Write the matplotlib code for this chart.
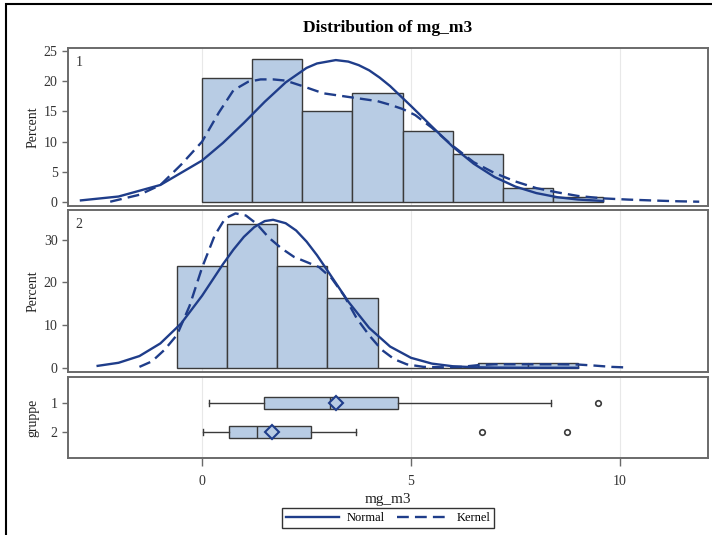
import matplotlib
matplotlib.use("Agg")
from matplotlib import pyplot as plt
from matplotlib.lines import Line2D
from matplotlib.patches import Rectangle

plt.rcParams['font.family'] = ['Liberation Serif', 'DejaVu Serif']

### Donnees ###

bin_width = 1.2
hist1_start = 0.0
hist1_pct = [20.5, 23.6, 15.0, 18.1, 11.8, 7.9, 2.4, 0.8]
hist2_start = -0.6
hist2_pct = [23.75, 33.75, 23.75, 16.25, 0.0, 0.0, 1.0, 1.0]

norm1_x = [-2.9, -2.0, -1.0, 0.0, 0.5, 1.0, 1.5, 2.0, 2.5, 2.75, 3.2, 3.5, 3.75, 4.0, 4.25, 4.5,
           5.0, 5.5, 6.0, 6.5, 7.0, 7.5, 8.0, 8.5, 9.0, 9.6]
norm1_y = [0.27, 0.91, 2.82, 6.87, 9.79, 13.1, 16.6, 19.8, 22.2, 22.94, 23.5, 23.25, 22.66, 21.8, 20.6, 19.2,
           15.9, 12.5, 9.16, 6.35, 4.14, 2.55, 1.48, 0.80, 0.41, 0.17]
kern1_x = [-2.2, -1.5, -1.0, -0.5, 0.0, 0.4, 0.75, 1.1, 1.4, 1.7, 2.0, 2.4, 2.9, 3.6,
           4.2, 4.5, 4.8, 5.1, 5.5, 6.0, 6.5, 7.0, 7.5, 8.0, 8.5, 9.0, 9.6, 10.2, 10.8, 11.4, 11.9]
kern1_y = [0.05, 1.2, 2.8, 6.2, 10.0, 14.8, 18.5, 19.9, 20.3, 20.3, 20.1, 19.2, 18.0, 17.3,
           16.7, 16.1, 15.4, 14.4, 12.3, 9.3, 6.6, 4.8, 3.4, 2.3, 1.6, 1.0, 0.6, 0.4, 0.25, 0.12, 0.05]

norm2_x = [-2.5, -2.0, -1.5, -1.0, -0.5, 0.0, 0.5, 0.75, 1.0, 1.25, 1.5, 1.7, 2.0, 2.25, 2.5, 2.75,
           3.0, 3.5, 4.0, 4.5, 5.0, 5.5, 6.0, 6.5, 7.0, 8.0, 9.0]
norm2_y = [0.44, 1.16, 2.74, 5.70, 10.4, 16.9, 24.3, 27.7, 30.7, 33.0, 34.4, 34.7, 33.9, 32.2, 29.6, 26.4,
           22.8, 15.5, 9.34, 4.97, 2.33, 0.97, 0.35, 0.12, 0.04, 0.0, 0.0]
kern2_x = [-1.5, -1.2, -0.9, -0.6, -0.3, 0.0, 0.3, 0.55, 0.8, 1.05, 1.3, 1.6, 1.9, 2.2,
           2.5, 2.8, 3.1, 3.4, 3.7, 4.0, 4.3, 4.6, 4.9, 5.3, 5.8, 6.2, 6.6, 7.0, 7.5, 8.0,
           8.5, 9.0, 9.4, 9.8, 10.2]
kern2_y = [0.2, 1.5, 4.2, 7.7, 14.5, 23.5, 31.0, 35.0, 36.2, 35.7, 33.8, 30.5, 28.0, 26.0,
           24.8, 23.6, 21.0, 16.9, 11.6, 7.6, 4.2, 2.0, 0.8, 0.2, 0.1, 0.2, 0.6, 0.8, 0.8, 0.8,
           0.8, 0.75, 0.5, 0.2, 0.05]

groupes = [1, 2]
whislo = [0.17, 0.02]
q1 = [1.49, 0.65]
med = [3.05, 1.31]
q3 = [4.70, 2.60]
whishi = [8.35, 3.68]
moyenne = [3.2, 1.68]
extremes = [[9.48], [6.71, 8.73]]

### Style ###

navy = '#1f3d8a'
fill = '#b8cce4'
edge = '#3a3a3a'
frame = '#6a6a6a'
W, H = 712, 535

def rect(top, bottom, left=68, right=708):
    return [left / W, 1 - bottom / H, (right - left) / W, (bottom - top) / H]

def __cadre(ax):
    for s in ax.spines.values():
        s.set_color(frame)
        s.set_linewidth(1.4)
    ax.set_xlim(-3.21, 12.11)
    ax.set_xticks([0, 5, 10])
    ax.grid(axis='x', color='#e8e8e8', linewidth=0.8)
    ax.set_axisbelow(True)
    ax.tick_params(colors='#333333', labelsize=10, length=4, width=1, color=frame)

def __histo(ax, start, pct, nx, ny, kx, ky, label):
    lefts = [start + i * bin_width for i in range(len(pct))]
    ax.bar(lefts, pct, width=bin_width, align='edge', color=fill,
           edgecolor=edge, linewidth=1.0, zorder=2)
    ax.plot(nx, ny, color=navy, lw=1.7, zorder=3)
    ax.plot(kx, ky, color=navy, lw=1.7, dashes=(5, 2.6), zorder=3)
    ax.tick_params(axis='x', length=0, labelbottom=False)
    ax.set_ylabel('Percent', fontsize=10, color='#222222')
    ax.text(0.012, 0.95, label, transform=ax.transAxes, va='top', ha='left',
            fontsize=10, color='#333333')

fig = plt.figure(figsize=(W / 100, H / 100), dpi=100)

ax1 = fig.add_axes(rect(48, 206))
__cadre(ax1)
__histo(ax1, hist1_start, hist1_pct, norm1_x, norm1_y, kern1_x, kern1_y, '1')
ax1.set_ylim(-0.66, 25.5)
ax1.set_yticks([0, 5, 10, 15, 20, 25])

ax2 = fig.add_axes(rect(210, 372))
__cadre(ax2)
__histo(ax2, hist2_start, hist2_pct, norm2_x, norm2_y, kern2_x, kern2_y, '2')
ax2.set_ylim(-1.0, 37.0)
ax2.set_yticks([0, 10, 20, 30])

ax3 = fig.add_axes(rect(377, 458))
__cadre(ax3)
stats = []
for i in range(len(groupes)):
    stats.append(dict(whislo=whislo[i], q1=q1[i], med=med[i], q3=q3[i],
                      whishi=whishi[i], mean=moyenne[i], fliers=extremes[i]))
ax3.bxp(stats, positions=groupes, orientation='horizontal', widths=0.41,
        showmeans=True, patch_artist=True, capwidths=0.2,
        boxprops=dict(facecolor=fill, edgecolor=edge, linewidth=1.0),
        medianprops=dict(color=edge, linewidth=1.0),
        whiskerprops=dict(color=edge, linewidth=1.0),
        capprops=dict(color=edge, linewidth=1.0),
        meanprops=dict(marker='D', markersize=7.5, markerfacecolor=fill,
                       markeredgecolor=navy, markeredgewidth=1.5),
        flierprops=dict(marker='o', markersize=4, markerfacecolor='none',
                        markeredgecolor=edge, markeredgewidth=1.2))
ax3.set_ylim(2.89, 0.123)
ax3.set_yticks(groupes)
ax3.set_yticklabels([str(g) for g in groupes])
ax3.set_xticks([0, 5, 10])
ax3.set_xticklabels(['0', '5', '10'])
ax3.tick_params(axis='x', length=6, pad=6)
ax3.set_ylabel('gruppe', fontsize=10, color='#222222')
ax3.set_xlabel('mg_m3', fontsize=11, color='#222222', labelpad=4)

for ax in (ax1, ax2, ax3):
    ax.yaxis.set_label_coords(-0.045, 0.5)

fig.text(388 / W, 1 - 28 / H, 'Distribution of mg_m3', ha='center', va='center',
         fontsize=12.5, fontweight='bold')

handles = [Line2D([], [], color=navy, lw=1.7),
           Line2D([], [], color=navy, lw=1.7, dashes=(5, 2.6))]
leg = fig.legend(handles, ['Normal', 'Kernel'], loc='center', ncol=2,
                 bbox_to_anchor=(388.5 / W, 1 - 518 / H), fontsize=9,
                 frameon=True, fancybox=False, handlelength=4.2,
                 columnspacing=1.0, handletextpad=0.6, borderpad=0.3)
leg.get_frame().set_edgecolor('black')
leg.get_frame().set_linewidth(1.0)

fig.add_artist(Rectangle((6 / W, -0.2), 2, 1.2 - 4 / H, transform=fig.transFigure,
                         fill=False, edgecolor='black', linewidth=1.5))

fig.savefig('out.png', dpi=100)
